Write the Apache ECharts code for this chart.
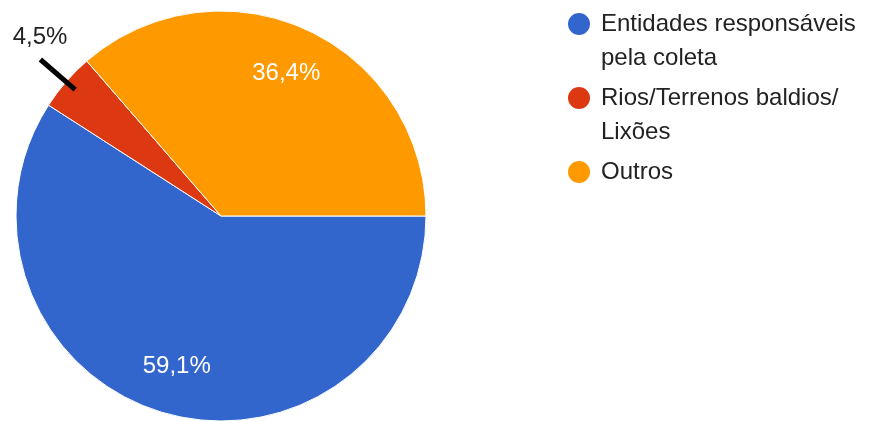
<!DOCTYPE html>
<html>
<head>
<meta charset="utf-8">
<script src="https://cdn.jsdelivr.net/npm/echarts@6/dist/echarts.min.js"></script>
<style>
  html, body { margin: 0; padding: 0; background: #fff; }
  #chart { width: 876px; height: 421px; }
</style>
</head>
<body>
<div id="chart"></div>
<script>
// Destino dos resíduos: número de respostas por categoria
const categories = ['Entidades responsáveis pela coleta', 'Rios/Terrenos baldios/Lixões', 'Outros'];
const legendLines = [['Entidades responsáveis', 'pela coleta'], ['Rios/Terrenos baldios/', 'Lixões'], ['Outros']];
const counts = [13, 1, 8];

const total = counts.reduce((a, b) => a + b, 0);
const pct = v => (v / total * 100).toFixed(1).replace('.', ',') + '%';
const isSmall = v => v / total < 0.1;

const FONT = 'Liberation Sans, Arial, sans-serif';
const CENTER = [221, 216];
const R = 205;

const baseData = categories.map((name, i) => ({ name, value: counts[i] }));

// large slices: white percentage drawn inside the slice
const insideData = categories.map((name, i) => ({
  name, value: counts[i],
  label: { show: !isSmall(counts[i]) }
}));

// small slices: percentage outside with a heavy leader line
const outsideData = categories.map((name, i) => ({
  name, value: counts[i],
  label: { show: isSmall(counts[i]) },
  labelLine: { show: isSmall(counts[i]) }
}));

const chart = echarts.init(document.getElementById('chart'), null, { renderer: 'canvas' });
chart.setOption({
  animation: false,
  color: ['#3366cc', '#dc3912', '#ff9900'],
  textStyle: { fontFamily: FONT },
  legend: {
    orient: 'vertical',
    left: 566,
    top: -27,
    padding: 0,
    itemGap: -28,
    itemWidth: 24,
    itemHeight: 24,
    icon: 'circle',
    data: categories,
    formatter: name => {
      const lines = legendLines[categories.indexOf(name)];
      return ' \n' + lines.join('\n') + (lines.length < 2 ? '\n ' : '');
    },
    textStyle: { fontSize: 24, lineHeight: 34, color: '#222', fontFamily: FONT, padding: [0, 0, 0, 5] }
  },
  series: [
    {
      type: 'pie',
      z: 2,
      center: CENTER,
      radius: R,
      startAngle: 0,
      clockwise: true,
      silent: true,
      label: { show: false },
      labelLine: { show: false },
      itemStyle: { borderColor: '#fff', borderWidth: 1 },
      data: baseData
    },
    {
      type: 'pie',
      z: 3,
      center: CENTER,
      radius: [103, R],
      startAngle: 0,
      clockwise: true,
      silent: true,
      itemStyle: { color: 'transparent' },
      label: {
        position: 'inside',
        color: '#fff',
        fontSize: 24,
        fontFamily: FONT,
        formatter: p => pct(p.value)
      },
      labelLine: { show: false },
      data: insideData
    },
    {
      type: 'pie',
      z: 4,
      center: CENTER,
      radius: 193,
      startAngle: 0,
      clockwise: true,
      silent: true,
      avoidLabelOverlap: false,
      itemStyle: { color: 'transparent' },
      label: {
        position: 'outside',
        color: '#222',
        fontSize: 24,
        lineHeight: 44,
        fontFamily: FONT,
        distanceToLabelLine: -27,
        formatter: p => pct(p.value) + '\n '
      },
      labelLine: {
        length: 46,
        length2: 0,
        lineStyle: { color: '#000', width: 5 }
      },
      data: outsideData
    }
  ]
});
</script>
</body>
</html>
